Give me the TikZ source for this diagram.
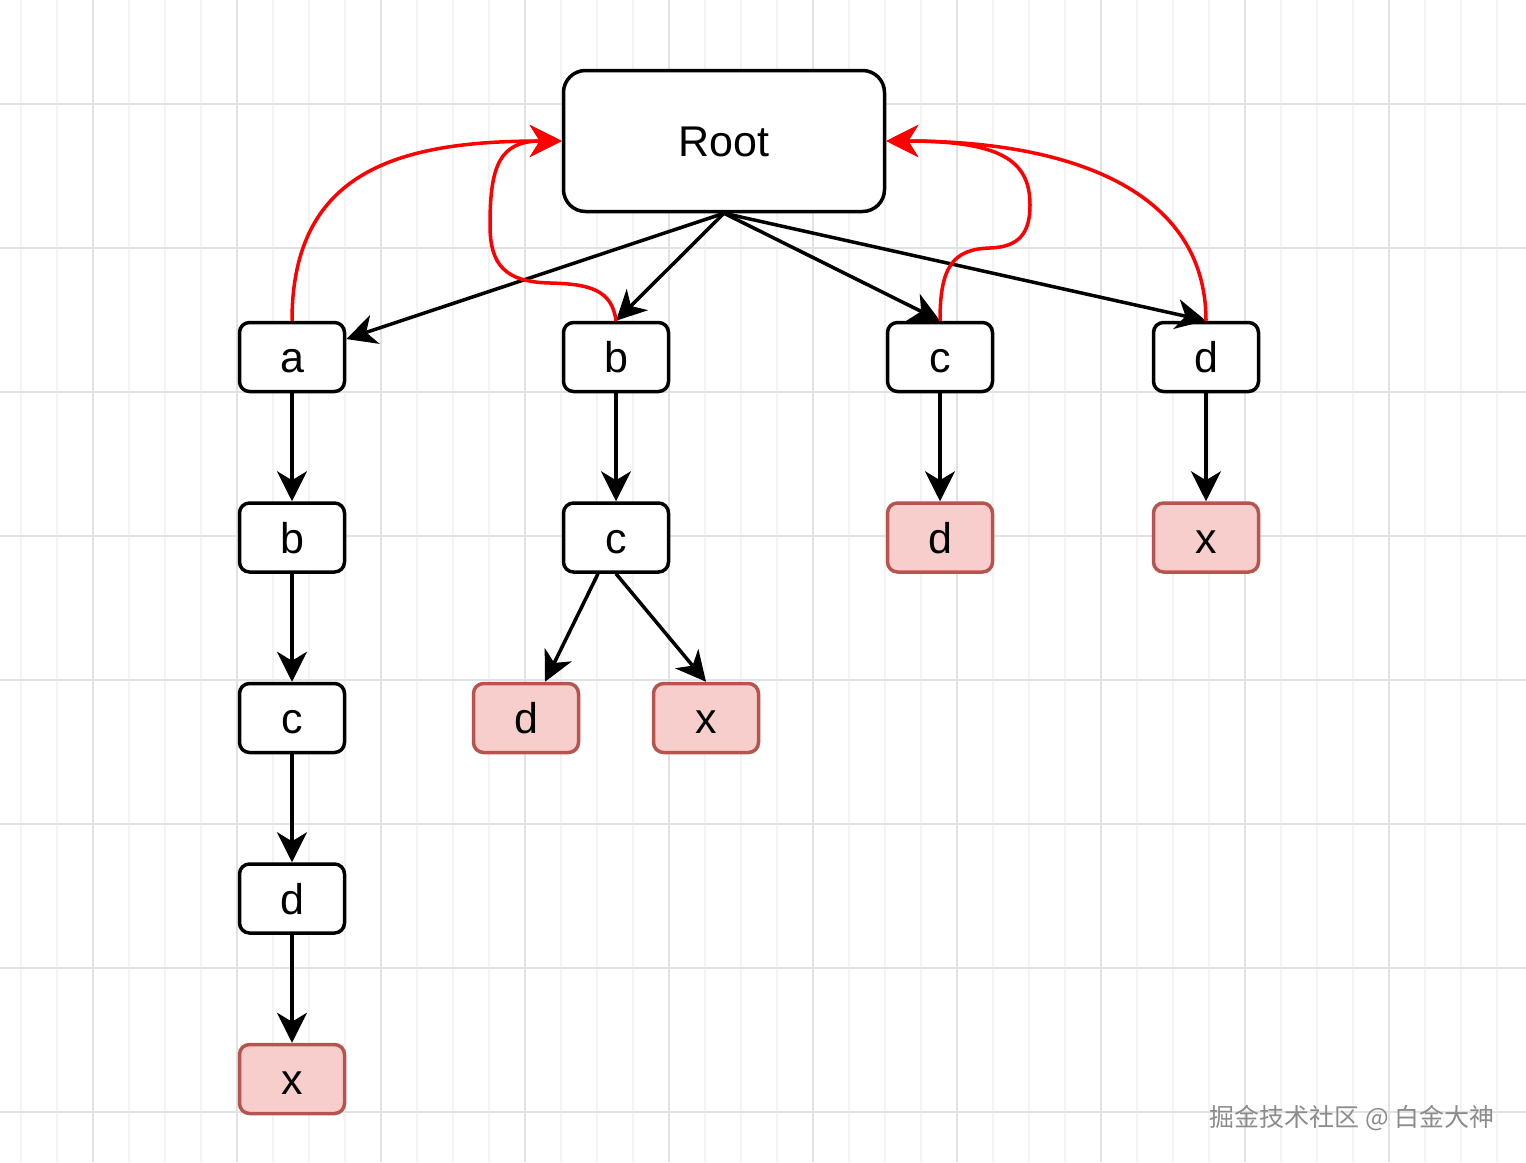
\documentclass[tikz,border=0pt]{standalone}
\usepackage{fontspec}
\setmainfont{Liberation Sans}
\newfontfamily\cjk{Noto Sans CJK SC}
\usepackage{xcolor}
\definecolor{leafred}{HTML}{B85450}
\definecolor{leaffill}{HTML}{F8CECC}
\definecolor{gridmajor}{HTML}{E2E2E2}
\definecolor{gridminor}{HTML}{F3F3F3}
\usepackage{tikz}
\usetikzlibrary{positioning,arrows.meta}

\begin{document}
\begin{tikzpicture}[x=1pt, y=-1pt, node distance = 108pt, treenode/.style={
    	rectangle, minimum width = 105pt, minimum height = 69pt, rounded corners = 10pt, line width = 3.5pt,
    	draw = black, fill = white, font = \fontsize{43}{50}\selectfont, text height = 31pt, text depth = 0pt},
    	leafnode/.style={treenode, draw = leafred, fill = leaffill},
    	arrowline/.style={line width = 3.5pt, -{Stealth[length=30pt,width=30pt,inset=9pt]}},
    	backarrow/.style={arrowline, draw = red, -{Stealth[length=32pt,width=32pt,inset=10pt]}}]
    	\useasboundingbox (0,0) rectangle (1526,1162);
    	\fill[white] (0,0) rectangle (1526,1162);
    	% grid
    	\foreach \x in {21,57,...,1525} \draw[gridminor, line width=1.5pt] (\x,0) -- (\x,1162);
    	\foreach \x in {93,237,...,1526} \draw[gridmajor, line width=2pt] (\x,0) -- (\x,1162);
    	\foreach \y in {104,248,...,1162} \draw[gridmajor, line width=2pt] (0,\y) -- (1526,\y);
    	% nodes
    	\node (R) [treenode, minimum width = 321pt, minimum height = 141pt, rounded corners = 22pt] at (724,141) {Root};
    	\node (A) [treenode] at (292,357) {a};
    	\node (B) [treenode] at (616,357) {b};
    	\node (C) [treenode] at (940,357) {c};
    	\node (D) [treenode] at (1206,357) {d};
    	\node (AB) [treenode, below=of A] {b};
    	\node (ABC) [treenode, below=of AB] {c};
    	\node (ABCD) [treenode, below=of ABC] {d};
    	\node (ABCDX) [leafnode, below=of ABCD] {x};
    	\node (BC) [treenode, below=of B] {c};
    	\node (BCD) [leafnode, below=of BC, xshift=-90pt] {d};
    	\node (BCX) [leafnode, below=of BC, xshift=90pt] {x};
    	\node (CD) [leafnode, below=of C] {d};
    	\node (DX) [leafnode, below=of D] {x};
    	\node (WM) [anchor=west, text=black!45, font=\cjk\fontsize{25}{29}\selectfont] at (1206,1118) {掘金技术社区 @ 白金大神};
    	% edges
    	\draw[arrowline] (R.south) -- (A);
    	\draw[arrowline] (R.south) -- (B.north);
    	\draw[arrowline] (R.south) -- (C.north);
    	\draw[arrowline] (R.south) -- (D.north);
    	\draw[arrowline] (A) -- (AB);
    	\draw[arrowline] (AB) -- (ABC);
    	\draw[arrowline] (ABC) -- (ABCD);
    	\draw[arrowline] (ABCD) -- (ABCDX);
    	\draw[arrowline] (B) -- (BC);
    	\draw[arrowline] ([xshift=-18pt]BC.south) -- ([xshift=19pt]BCD.north);
    	\draw[arrowline] (BC.south) -- (BCX.north);
    	\draw[arrowline] (C) -- (CD);
    	\draw[arrowline] (D) -- (DX);
    	% back to root
    	\draw[backarrow] (A.north) .. controls (292,170) and (400,141) .. (R.west);
    	\draw[backarrow] (B.north) .. controls (612,290) and (590,284) .. (550,283) .. controls (505,282) and (490,265) .. (490,225) .. controls (490,165) and (500,141) .. (R.west);
    	\draw[backarrow] (C.north) .. controls (940,268) and (952,249) .. (990,248) .. controls (1020,247) and (1030,232) .. (1030,205) .. controls (1030,160) and (1000,141) .. (R.east);
    	\draw[backarrow] (D.north) .. controls (1206,190) and (1070,141) .. (R.east);
	\end{tikzpicture}
\end{document}
